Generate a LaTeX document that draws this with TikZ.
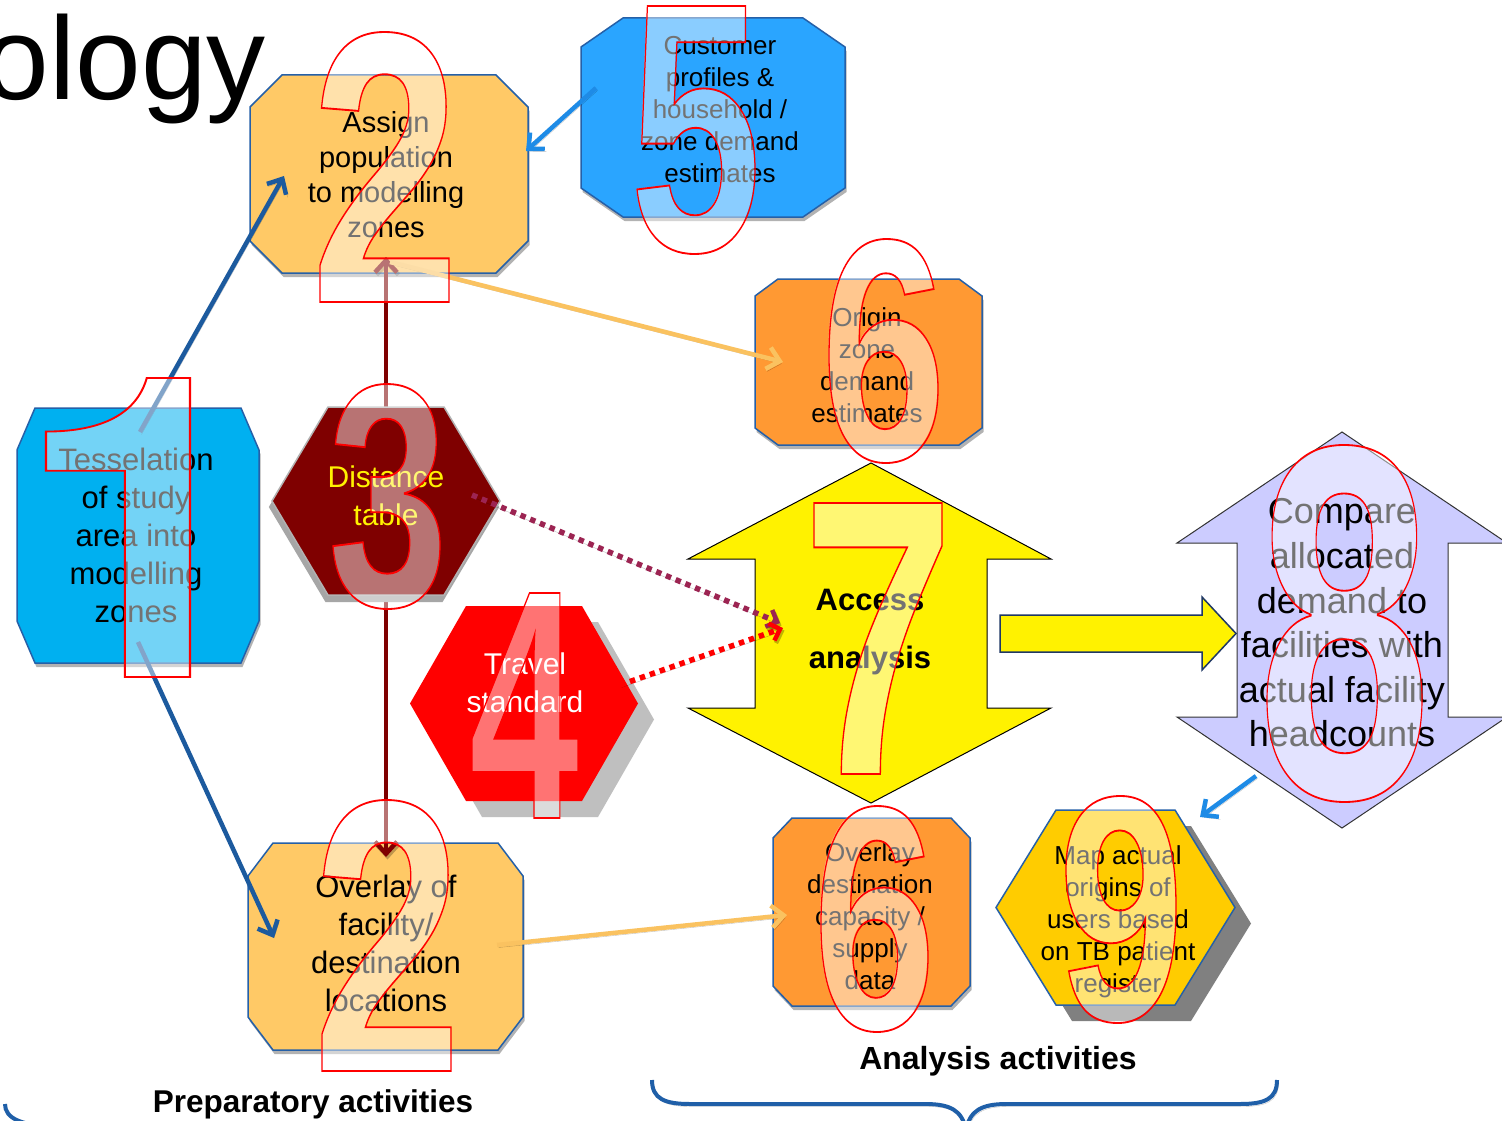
\documentclass[tikz,border=0pt]{standalone}
\usepackage{fontspec}
\setmainfont{Liberation Sans}
\newfontfamily\digfont{Liberation Sans}
\newfontfamily\digfontone{TeX Gyre Heros}
\usetikzlibrary{arrows.meta,shadows,calc}
\definecolor{cOr}{HTML}{FFC966}
\definecolor{cBlFive}{HTML}{2AA5FF}
\definecolor{cOrSix}{HTML}{FF9933}
\definecolor{cCy}{HTML}{00B0F0}
\definecolor{cEdge}{HTML}{2560A8}
\definecolor{cMar}{HTML}{7F0000}
\definecolor{cGold}{HTML}{FFCC00}
\definecolor{cLav}{HTML}{CCCCFF}
\definecolor{cDkBl}{HTML}{1C5A9E}
\definecolor{cBrBl}{HTML}{1E8BE6}
\definecolor{cOrArr}{HTML}{FAC260}
\definecolor{cDot}{HTML}{9C2452}
\definecolor{cBrace}{HTML}{1F5FA8}
\definecolor{cNavy}{HTML}{1F3864}
\newdimen\dgl \newdimen\dgr
% big outlined numeral fitted into the box (x0,y0)-(x1,y1)
\newcommand\bigdig[7][\digfont]{%
 \pgfmathsetmacro\dfs{(#7-#5)/0.72}%
 \node[inner sep=0pt,outer sep=0pt] at (#4,#5) {#1\bfseries\fontsize{\dfs pt}{\dfs pt}\selectfont
   \global\dgl=\XeTeXglyphbounds1 \XeTeXcharglyph`#3\relax
   \global\dgr=\XeTeXglyphbounds3 \XeTeXcharglyph`#3\relax
   \global\setbox1=\hbox{#3}};
 \pgfmathsetmacro\dsx{(#6-#4)/(\the\wd1-\the\dgl-\the\dgr)}%
 \pgfmathsetmacro\dsy{(#7-#5)/(\the\ht1+\the\dp1)}%
 \pgfmathsetmacro\dpx{#4-\dsx*\the\dgl}%
 \pgfmathsetmacro\dpy{#7-\dsy*\the\dp1}%
 \node[digfill] (#2) at (\dpx,\dpy) {\scalebox{\dsx}[\dsy]{\copy1}};
 \node[digline] at (\dpx,\dpy) {\scalebox{\dsx}[\dsy]{\special{pdf:literal direct 1 Tr 1.8 w}\copy1\special{pdf:literal direct 0 Tr}}};
}
\newcommand\octo[7]{%
 \path[#1] ({#2+#6},#3) -- ({#4-#6},#3) -- (#4,{#3+#7}) -- (#4,{#5-#7}) -- ({#4-#6},#5) -- ({#2+#6},#5) -- (#2,{#5-#7}) -- (#2,{#3+#7}) -- cycle;}
\newcommand\hexa[6]{%
 \path[#1] (#2,{(#3+#5)/2}) -- ({#2+#6},#3) -- ({#4-#6},#3) -- (#4,{(#3+#5)/2}) -- ({#4-#6},#5) -- ({#2+#6},#5) -- cycle;}
\begin{document}
\begin{tikzpicture}[x=1pt,y=-1pt,
  obox/.style={draw=cEdge,line width=1.5pt,line join=miter,
     drop shadow={shadow xshift=1.5pt,shadow yshift=-4pt,opacity=.3,fill=black}},
  txt/.style={inner sep=0pt,align=center,text=black},
  digfill/.style={inner sep=0pt,outer sep=0pt,anchor=base west,text=white,text opacity=0.45},
  digline/.style={inner sep=0pt,outer sep=0pt,anchor=base west,text=red},
  lshadow/.style={preaction={draw=black,draw opacity=.25,transform canvas={shift={(1.5pt,-2.5pt)}}}},
  conn/.style={lshadow,line width=4.5pt,-{Straight Barb[length=12pt,width=22pt,line width=4.5pt]}},
  dotconn/.style={lshadow,line width=5.5pt,dash pattern=on 5.5pt off 5pt,-{Straight Barb[length=9pt,width=18pt,line width=4.5pt]}},
  brace/.style={draw=cBrace,line width=4pt,lshadow},
  lbl/.style={inner sep=0pt,font=\fontsize{31.5}{36}\selectfont\bfseries}]
\clip (0,0) rectangle (1502,1121);
\fill[white] (0,0) rectangle (1502,1121);
% title fragment
\node[anchor=base east,inner sep=0pt,font=\fontsize{118}{118}\selectfont] (title) at (266,100) {ology};
% braces and group labels
\draw[brace] (652,1080) .. controls (652,1099) and (665,1104) .. (690,1104) -- (925,1104) .. controls (950,1104) and (962,1110) .. (966,1130);
\draw[brace] (966,1130) .. controls (970,1110) and (982,1104) .. (1007,1104) -- (1240,1104) .. controls (1265,1104) and (1277,1099) .. (1277,1080);
\draw[brace] (5,1104) .. controls (5,1118) and (20,1126) .. (60,1127);
\node[lbl] (prep) at (313,1104) {Preparatory activities};
\node[lbl,font=\fontsize{32}{36}\selectfont\bfseries] (anal) at (998,1061) {Analysis activities};
% octagonal boxes
\octo{obox,fill=cOr}{250}{75}{528}{273}{32}{32}
\octo{obox,fill=cBlFive}{581}{18}{845}{217}{42}{29}
\octo{obox,fill=cOrSix}{755}{279}{982}{445}{23}{17}
\octo{obox,fill=cCy}{17}{408}{259}{663}{18}{42}
\octo{obox,fill=cOr}{248}{843}{523}{1050}{25}{33}
\octo{obox,fill=cOrSix}{773}{818}{970}{1006}{19}{20}
% text of the boxes
\node[txt,font=\fontsize{29}{35}\selectfont] (b2t) at (386,175) {Assign\\population\\to modelling\\zones};
\node[txt,font=\fontsize{26}{32}\selectfont] (b5) at (720,110) {Customer\\profiles \&\\household /\\zone demand\\estimates};
\node[txt,font=\fontsize{26}{32}\selectfont] (b6t) at (867,365) {Origin\\zone\\demand\\estimates};
\node[txt,font=\fontsize{31}{38}\selectfont] (b1) at (136,535) {Tesselation\\of study\\area into\\modelling\\zones};
\node[txt,font=\fontsize{31}{38}\selectfont] (b2b) at (386,943) {Overlay of\\facility/\\destination\\locations};
\node[txt,font=\fontsize{26}{32}\selectfont] (b6b) at (870,916) {Overlay\\destination\\capacity /\\supply\\data};
% vertical links from the distance table
\coordinate (v1s) at (386,430);
\coordinate (v1e) at (386,257);
\coordinate (v2s) at (386,580);
\coordinate (v2e) at (386,857);
\draw[conn,draw=cMar,line width=4pt] (v1s) -- (v1e);
\draw[conn,draw=cMar,line width=4pt] (v2s) -- (v2e);
% hexagons
\hexa{fill=black!35,draw=black!35,line width=2pt}{270}{413}{498}{601}{56}
\hexa{fill=cMar,draw=black!30,line width=1.5pt}{272}{407}{500}{595}{56}
\node[txt,text=yellow,font=\fontsize{30}{38}\selectfont] (dist) at (386,496) {Distance\\table};
\hexa{fill=black!25}{426}{622}{654}{817}{56}
\hexa{fill=red}{410}{606}{638}{801}{56}
\node[txt,text=white,font=\fontsize{30}{38}\selectfont] (trav) at (525,683) {Travel\\standard};
\hexa{fill=black!50}{1012}{826}{1251}{1021}{60}
\hexa{fill=cGold,draw=cEdge,line width=1.5pt}{996}{810}{1235}{1005}{60}
\node[txt,font=\fontsize{26}{32}\selectfont] (map) at (1118,922) {Map actual\\origins of\\users based\\on TB patient\\register};
% double arrows
\path[fill=yellow,draw=black,line width=1pt] (871,463) -- (1051,559) -- (987,559) -- (987,708) -- (1051,708) -- (871,803) -- (688,708) -- (755,708) -- (755,559) -- (688,559) -- cycle;
\node[txt,font=\fontsize{31}{58}\selectfont\bfseries] (acc) at (870,632) {Access\\analysis};
\path[fill=cLav,draw=black!80,line width=1pt] (1342,432) -- (1507,543) -- (1448,543) -- (1448,717) -- (1507,717) -- (1342,828) -- (1177,717) -- (1237,717) -- (1237,543) -- (1177,543) -- cycle;
\node[txt,font=\fontsize{36}{44.6}\selectfont] (cmp) at (1342,623) {Compare\\allocated\\demand to\\facilities with\\actual facility\\headcounts};
\path[fill=yellow,draw=cNavy,line width=1.5pt] (1000,615) -- (1202,615) -- (1202,597) -- (1236,633.5) -- (1202,670) -- (1202,652) -- (1000,652) -- cycle;
% other connectors
\coordinate (a1s) at (140,432);
\coordinate (a1e) at (284,176);
\coordinate (a2s) at (138,642);
\coordinate (a2e) at (274,938);
\coordinate (a3s) at (596,88);
\coordinate (a3e) at (526,151);
\coordinate (a4s) at (390,262);
\coordinate (a4e) at (783,362);
\coordinate (a5s) at (497,945);
\coordinate (a5e) at (787,915);
\coordinate (d1s) at (472,495);
\coordinate (d1e) at (780,623);
\coordinate (d2s) at (620,685);
\coordinate (d2e) at (783,628);
\coordinate (a6s) at (1256,776);
\coordinate (a6e) at (1200,817);
\draw[conn,draw=cDkBl] (a1s) -- (a1e);
\draw[conn,draw=cDkBl] (a2s) -- (a2e);
\draw[conn,draw=cBrBl] (a3s) -- (a3e);
\draw[conn,draw=cOrArr] (a4s) -- (a4e);
\draw[conn,draw=cOrArr] (a5s) -- (a5e);
\draw[dotconn,draw=cDot] (d1s) -- (d1e);
\draw[dotconn,draw=red] (d2s) -- (d2e);
\draw[conn,draw=cBrBl] (a6s) -- (a6e);
% big outlined step numbers
\bigdig{n2a}{2}{320}{32}{449}{302}
\bigdig{n5}{5}{637}{6}{755}{254}
\bigdig{n6a}{6}{829}{239}{938}{463}
\bigdig[\digfontone]{n1}{1}{46}{378}{190}{677}
\bigdig{n3}{3}{333}{384}{440}{609}
\bigdig{n4}{4}{472}{593}{578}{818}
\bigdig{n2b}{2}{322}{800}{451}{1071}
\bigdig{n7}{7}{814}{503}{942}{774}
\bigdig{n8}{8}{1267}{445}{1422}{802}
\bigdig{n6b}{6}{821}{806}{928}{1032}
\bigdig{n9}{9}{1066}{796}{1176}{1023}
\end{tikzpicture}
\end{document}
